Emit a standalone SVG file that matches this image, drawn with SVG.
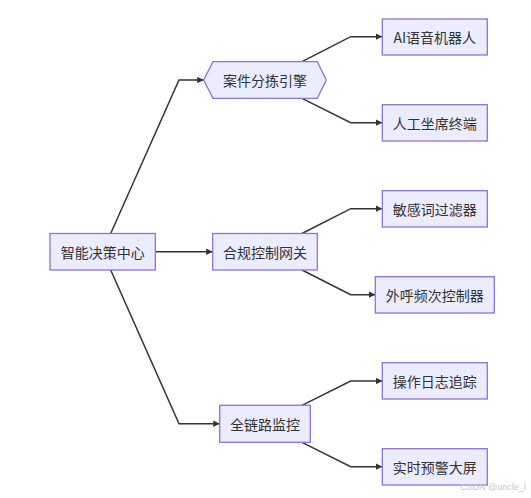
<svg xmlns="http://www.w3.org/2000/svg" width="531" height="498" viewBox="0 0 531 498">
<style>
.node rect, .node polygon { fill: #ECECFF; stroke: #9370DB; stroke-width: 1.3; }
.node text { font-family: "Noto Sans CJK SC", "Liberation Sans", sans-serif; font-size: 14px; fill: #333; text-anchor: middle; dominant-baseline: central; }
.edges path { fill: none; stroke: #333; stroke-width: 1.5; marker-end: url(#arrow); }
.wm { font-family: "Liberation Sans", sans-serif; font-size: 9px; fill: #c8c8c8; }
</style>
<defs>
<marker id="arrow" viewBox="0 0 10 10" refX="10" refY="5" markerWidth="6.5" markerHeight="6.5" markerUnits="userSpaceOnUse" orient="auto">
<path d="M0,0 L10,5 L0,10 z" fill="#333"/>
</marker>
</defs>
<rect width="531" height="498" fill="#fff"/>
<g class="edges">
<path d="M110.7,233.5 L179,80 L203.7,80"/>
<path d="M155.3,251.7 L212.7,251.7"/>
<path d="M110.7,270 L179,423.7 L219.7,423.7"/>
<path d="M302,61.7 L350.7,36.7 L382.3,36.7"/>
<path d="M302,98.3 L350.7,122.7 L382.3,122.7"/>
<path d="M302,233.5 L350.7,208.7 L382.3,208.7"/>
<path d="M302,270 L350.7,294.7 L375.3,294.7"/>
<path d="M302,405.3 L350.7,381 L382.3,381"/>
<path d="M302,442.3 L350.7,466.7 L382.3,466.7"/>
</g>
<g id="n-center" class="node"><rect x="50" y="233.5" width="105.3" height="36.5"/><text x="102.7" y="251.7">智能决策中心</text></g>
<g id="n-sort" class="node"><polygon points="213,61.7 317.3,61.7 326.3,80 317.3,98.3 213,98.3 203.7,80"/><text x="265" y="80">案件分拣引擎</text></g>
<g id="n-comp" class="node"><rect x="212.7" y="233.5" width="104.6" height="36.5"/><text x="265" y="251.7">合规控制网关</text></g>
<g id="n-mon" class="node"><rect x="219.7" y="405.3" width="90.6" height="37"/><text x="265" y="423.7">全链路监控</text></g>
<g id="n-ai" class="node"><rect x="382.3" y="19" width="105" height="36"/><text x="434.8" y="37">AI语音机器人</text></g>
<g id="n-human" class="node"><rect x="382.3" y="104.7" width="105" height="36.3"/><text x="434.8" y="122.8">人工坐席终端</text></g>
<g id="n-filter" class="node"><rect x="382.3" y="190.7" width="105" height="36.3"/><text x="434.8" y="208.8">敏感词过滤器</text></g>
<g id="n-freq" class="node"><rect x="375.3" y="276.7" width="119" height="36.3"/><text x="434.8" y="294.8">外呼频次控制器</text></g>
<g id="n-log" class="node"><rect x="382.3" y="362.7" width="105" height="36.3"/><text x="434.8" y="380.8">操作日志追踪</text></g>
<g id="n-alert" class="node"><rect x="382.3" y="448.7" width="105" height="36.3"/><text x="434.8" y="466.8">实时预警大屏</text></g>
<text class="wm" x="460" y="490">CSDN @uncle_l</text>
</svg>
